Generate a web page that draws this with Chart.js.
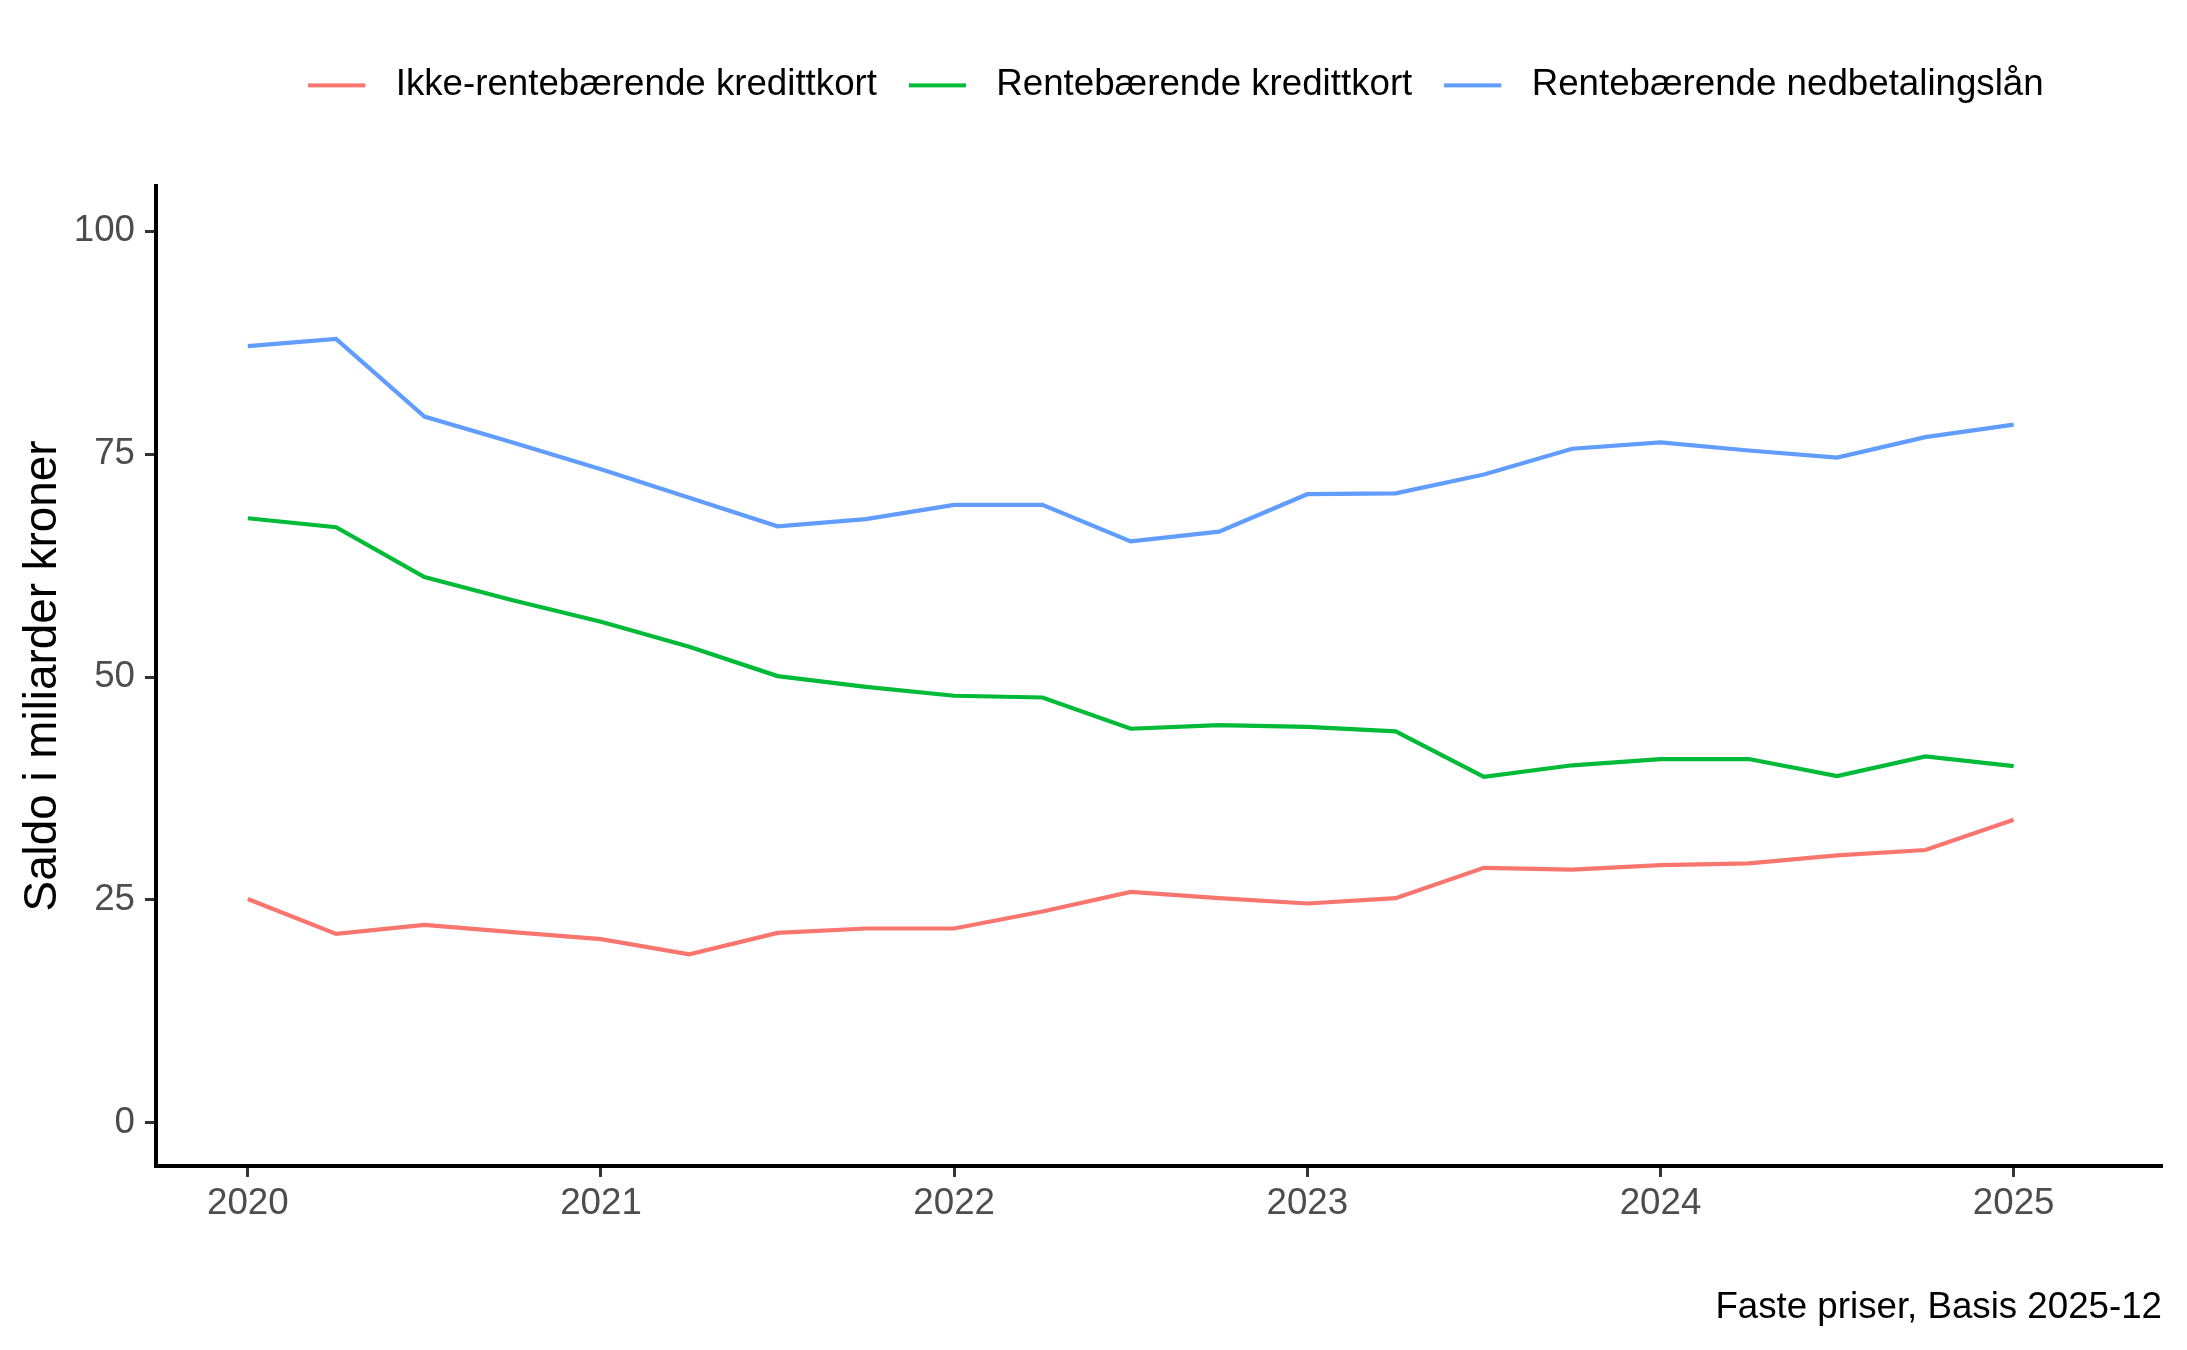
<!DOCTYPE html>
<html>
<head>
<meta charset="utf-8">
<script src="https://cdn.jsdelivr.net/npm/chart.js@4/dist/chart.umd.min.js"></script>
<style>
body { margin: 0; background: #fff; }
</style>
</head>
<body>
<canvas id="saldo" width="2187" height="1350"></canvas>
<script>
// kvartaler som desimalår
var kvartaler = [2020, 2020.25, 2020.5, 2020.75, 2021, 2021.25, 2021.5, 2021.75, 2022, 2022.25, 2022.5, 2022.75,
	2023, 2023.25, 2023.5, 2023.75, 2024, 2024.25, 2024.5, 2024.75, 2025];

var ikkeRentebaerende = [25.1, 21.2, 22.2, 21.4, 20.6, 18.9, 21.3, 21.8, 21.8, 23.7, 25.9, 25.2,
	24.6, 25.2, 28.6, 28.4, 28.9, 29.1, 30.0, 30.6, 34.0];
var rentebaerendeKort = [67.8, 66.8, 61.2, 58.6, 56.2, 53.4, 50.1, 48.9, 47.9, 47.7, 44.2, 44.6,
	44.4, 43.9, 38.8, 40.1, 40.8, 40.8, 38.9, 41.1, 40.0];
var nedbetalingslaan = [87.1, 87.9, 79.2, 76.3, 73.3, 70.1, 66.9, 67.7, 69.3, 69.3, 65.2, 66.3,
	70.5, 70.6, 72.7, 75.6, 76.3, 75.4, 74.6, 76.9, 78.3];

var serieNavn = ["Ikke-rentebærende kredittkort", "Rentebærende kredittkort", "Rentebærende nedbetalingslån"];
var farger = ["#F8766D", "#00BA38", "#619CFF"];

var aarTicks = [2020, 2021, 2022, 2023, 2024, 2025];
var saldoTicks = [0, 25, 50, 75, 100];

function punkter(verdier) {
	var ut = [];
	for (var i = 0; i < kvartaler.length; i++) {
		ut.push({x: kvartaler[i], y: verdier[i]});
	}
	return ut;
}

// legend-nokler: kort strek med litt luft etter
function lagNokkel(farge) {
	var c = document.createElement("canvas");
	c.width = 69;
	c.height = 8;
	var g = c.getContext("2d");
	g.strokeStyle = farge;
	g.lineWidth = 4.2;
	g.beginPath();
	g.moveTo(0, 4);
	g.lineTo(57, 4);
	g.stroke();
	return c;
}
var nokler = farger.map(lagNokkel);

var fontFamilie = '"Liberation Sans", Arial, sans-serif';
Chart.defaults.font.family = fontFamilie;

var serier = [ikkeRentebaerende, rentebaerendeKort, nedbetalingslaan];
var datasett = [];
for (var s = 0; s < serier.length; s++) {
	datasett.push({
		label: serieNavn[s],
		data: punkter(serier[s]),
		borderColor: farger[s],
		backgroundColor: farger[s],
		borderWidth: 4.2,
		pointRadius: 0,
		tension: 0,
		fill: false
	});
}

// fast hoyde paa legenden, og litt forskyvning mot hoyre
var legendHoyde = {
	id: "legendHoyde",
	beforeLayout: function(chart) {
		var leg = chart.legend;
		if (leg && !leg._patched) {
			var fit = leg.fit;
			leg.fit = function() {
				fit.call(this);
				this.height = 151;
			};
			var draw = leg.draw;
			leg.draw = function() {
				var c = this.ctx;
				c.save();
				c.translate(17, 0);
				draw.call(this);
				c.restore();
			};
			leg._patched = true;
		}
	}
};

var ctx = document.getElementById("saldo");
new Chart(ctx, {
	type: "line",
	data: { datasets: datasett },
	plugins: [legendHoyde],
	options: {
		responsive: false,
		animation: false,
		layout: { padding: { top: 35, right: 25, left: 0, bottom: 0 } },
		plugins: {
			tooltip: { enabled: false },
			legend: {
				position: "top",
				fullSize: false,
				labels: {
					usePointStyle: true,
					pointStyleWidth: 69,
					padding: 32,
					color: "#000",
					font: { size: 36.7 },
					generateLabels: function(chart) {
						var items = Chart.defaults.plugins.legend.labels.generateLabels(chart);
						items.forEach(function(it, i) { it.pointStyle = nokler[i]; });
						return items;
					}
				}
			},
			title: {
				display: true,
				text: "Faste priser, Basis 2025-12",
				position: "bottom",
				align: "end",
				color: "#000",
				font: { size: 36.7, weight: "normal" },
				padding: { top: 0, bottom: 20 }
			}
		},
		scales: {
			x: {
				type: "linear",
				min: 2019.74,
				max: 2025.42,
				afterBuildTicks: function(scale) {
					scale.ticks = aarTicks.map(function(v) { return {value: v}; });
				},
				afterFit: function(scale) { scale.height = 120; },
				grid: { drawOnChartArea: false, drawTicks: true, tickLength: 11, tickWidth: 3, tickColor: "#333333" },
				border: { display: true, color: "#000", width: 4 },
				ticks: {
					color: "#4d4d4d",
					font: { size: 36.7 },
					padding: 5,
					maxRotation: 0,
					callback: function(v) { return String(v); }
				}
			},
			y: {
				min: -4.83,
				max: 105.06,
				afterBuildTicks: function(scale) {
					scale.ticks = saldoTicks.map(function(v) { return {value: v}; });
				},
				afterFit: function(scale) { scale.width = 156; },
				grid: { drawOnChartArea: false, drawTicks: true, tickLength: 11, tickWidth: 3, tickColor: "#333333" },
				border: { display: true, color: "#000", width: 4 },
				ticks: {
					color: "#4d4d4d",
					font: { size: 36.7 },
					padding: 10
				},
				title: {
					display: true,
					text: "Saldo i miliarder kroner",
					color: "#000",
					font: { size: 45.8 },
					padding: { top: 16, bottom: 0 }
				}
			}
		}
	}
});
</script>
</body>
</html>
